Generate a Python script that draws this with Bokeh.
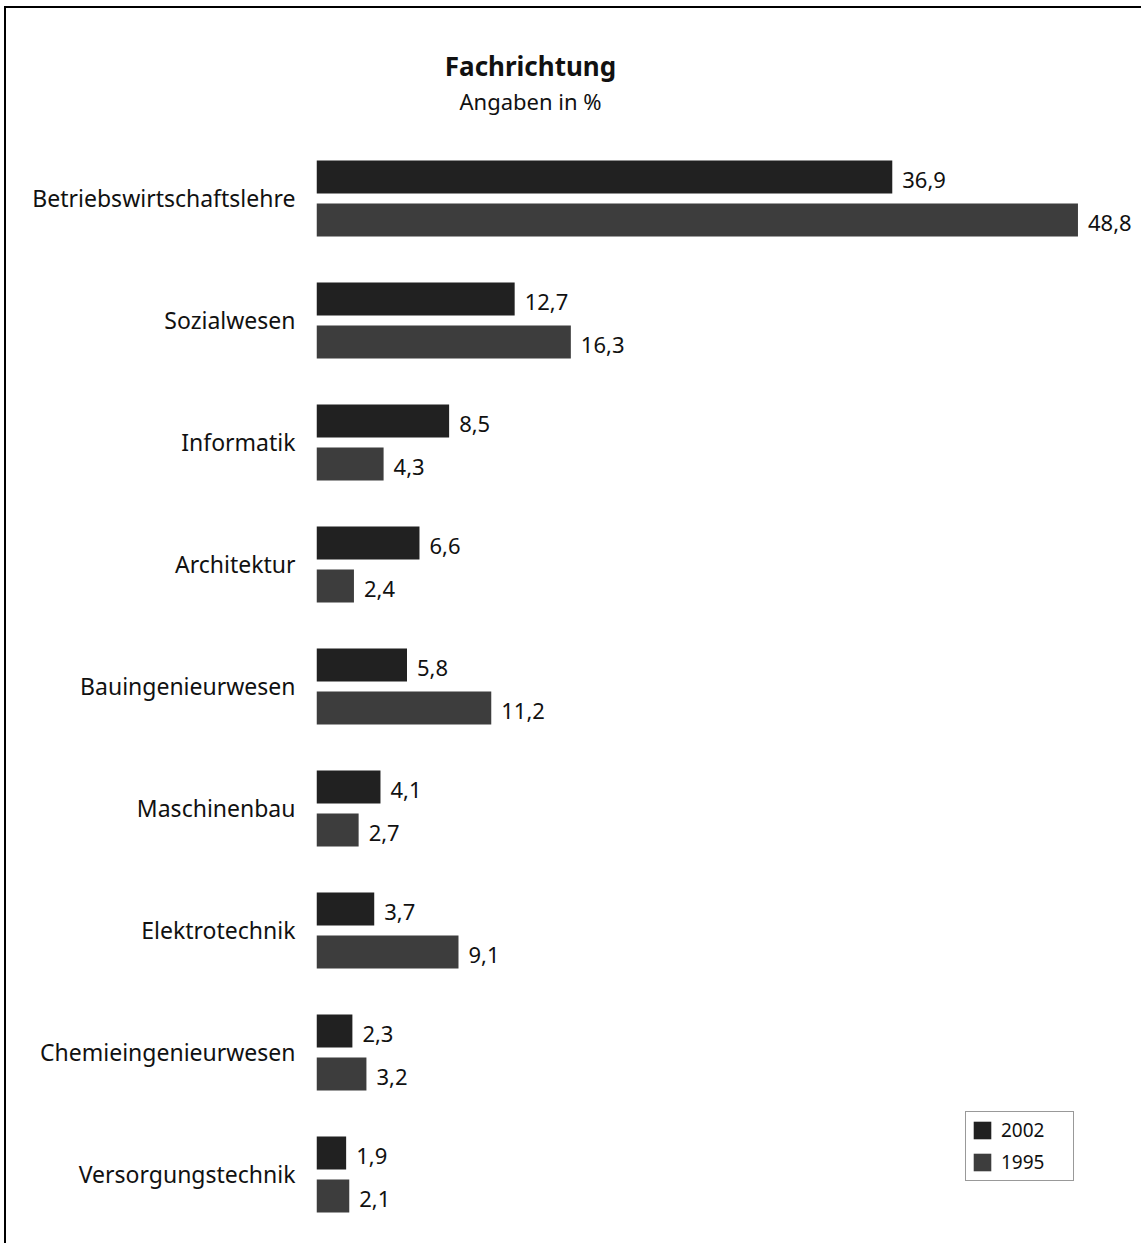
from bokeh.plotting import figure
from bokeh.models import Range1d, Label, ColumnDataSource, Legend, LegendItem, FixedTicker
from bokeh.core.properties import value
from bokeh.embed import file_html
from bokeh.resources import INLINE

categories = ["Betriebswirtschaftslehre", "Sozialwesen", "Informatik", "Architektur",
              "Bauingenieurwesen", "Maschinenbau", "Elektrotechnik",
              "Chemieingenieurwesen", "Versorgungstechnik"]
values_2002 = [36.9, 12.7, 8.5, 6.6, 5.8, 4.1, 3.7, 2.3, 1.9]
values_1995 = [48.8, 16.3, 4.3, 2.4, 11.2, 2.7, 9.1, 3.2, 2.1]
series_names = ["2002", "1995"]
title_text = "Fachrichtung"
subtitle_text = "Angaben in %"

FONT = "Noto Sans"
C2002 = "#212121"
C1995 = "#3d3d3d"

n = len(categories)
pos = [n - 1 - i for i in range(n)]          # category slots, first at top
OFF = 0.176                                    # half distance between the two bars
BH = 0.27                                      # bar thickness (category units)


def de(v):
    return f"{v:.1f}".replace(".", ",")


src = ColumnDataSource(dict(
    cat=categories,
    y2002=[y + OFF for y in pos],
    y1995=[y - OFF for y in pos],
    v2002=values_2002,
    v1995=values_1995,
    l2002=[de(v) for v in values_2002],
    l1995=[de(v) for v in values_1995],
))

X_END = 53.0
Y_LO, Y_HI = -0.582, (n - 1) + 1.557

p = figure(width=1137, height=1237, output_backend="svg", toolbar_location=None,
           x_range=Range1d(0, X_END), y_range=Range1d(Y_LO, Y_HI),
           min_border_left=310, min_border_right=0, min_border_top=0, min_border_bottom=0)
p.styles = {"border-left": "2px solid #000", "border-top": "2px solid #000",
            "margin-left": "4px", "margin-top": "6px"}

p.xaxis.visible = False
p.grid.visible = False
p.outline_line_color = None
p.background_fill_color = "white"
p.border_fill_color = "white"

yax = p.yaxis[0]
yax.ticker = FixedTicker(ticks=pos)
yax.major_label_overrides = {y: c for y, c in zip(pos, categories)}
yax.axis_line_color = None
yax.major_tick_line_color = None
yax.minor_tick_line_color = None
yax.major_label_standoff = 15
yax.major_label_text_font = FONT
yax.major_label_text_font_size = "23px"
yax.major_label_text_color = "#111111"

r1 = p.hbar(y="y2002", right="v2002", left=0, height=BH, source=src,
            fill_color=C2002, line_color=None)
r2 = p.hbar(y="y1995", right="v1995", left=0, height=BH, source=src,
            fill_color=C1995, line_color=None)

p.text(x="v2002", y="y2002", text="l2002", source=src,
       x_offset=10, y_offset=3, text_baseline="middle", text_align="left",
       text_font=value(FONT), text_font_size="22px", text_color="#111111")
p.text(x="v1995", y="y1995", text="l1995", source=src,
       x_offset=10, y_offset=3, text_baseline="middle", text_align="left",
       text_font=value(FONT), text_font_size="22px", text_color="#111111")

legend = Legend(items=[LegendItem(label=series_names[0], renderers=[r1]),
                       LegendItem(label=series_names[1], renderers=[r2])],
                location=(649, 64), orientation="vertical",
                glyph_width=22, glyph_height=22, label_height=20, spacing=6, padding=5,
                label_width=67, label_standoff=8,
                label_text_font=FONT, label_text_font_size="19px", label_text_color="#111111",
                border_line_color="#333333", border_line_width=1.5,
                background_fill_color="white", background_fill_alpha=1.0, margin=0)
p.add_layout(legend)

# headings: centred above the bars
PX_X = 827 / X_END
PX_Y = 1237 / (Y_HI - Y_LO)
hx = 214 / PX_X
p.add_layout(Label(x=hx, y=Y_HI - 57 / PX_Y, text=title_text,
                   text_align="center", text_baseline="alphabetic",
                   text_font=FONT, text_font_size="26px", text_font_style="bold",
                   text_color="#111111"))
p.add_layout(Label(x=hx, y=Y_HI - 92 / PX_Y, text=subtitle_text,
                   text_align="center", text_baseline="alphabetic",
                   text_font=FONT, text_font_size="22px", text_font_style="normal",
                   text_color="#111111"))

open("out.html", "w").write(file_html(p, INLINE))
